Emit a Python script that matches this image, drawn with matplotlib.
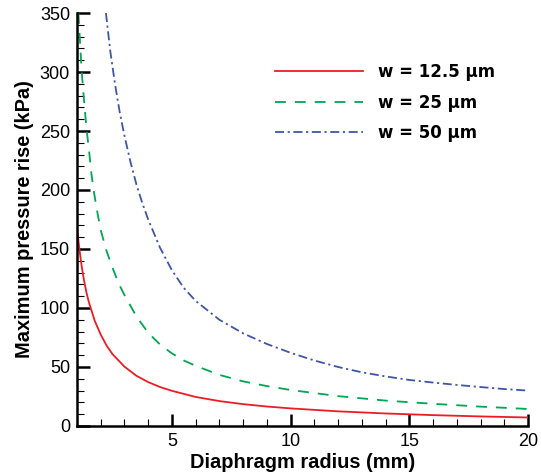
import matplotlib
matplotlib.use("Agg")
import matplotlib.pyplot as plt
from matplotlib.ticker import MultipleLocator

plt.rcParams["font.family"] = ["Liberation Sans", "DejaVu Sans"]

# values
radius_125 = [1.0, 1.1, 1.2, 1.3, 1.4, 1.5, 1.75, 2.0, 2.25, 2.5, 3.0, 3.5, 4.0, 4.5,
              5.0, 6.0, 7.0, 8.0, 9.0, 10, 12, 14, 16, 18, 20]
press_125 = [168, 150, 135, 123, 113, 105, 89, 77.5, 68, 60.8, 50.3, 42.6, 37.2, 33,
             29.8, 24.6, 21.1, 18.5, 16.5, 14.9, 12.4, 10.6, 9.2, 8.1, 7.2]

radius_25 = [1.06, 1.1, 1.2, 1.3, 1.4, 1.5, 1.6, 1.7, 1.85, 2.0, 2.25, 2.5, 2.75, 3.0,
             3.5, 4.0, 4.5, 5.0, 5.5, 6.0, 7.0, 8.0, 9.0, 10, 12, 14, 16, 18, 20]
press_25 = [350, 335, 300, 275, 252, 235, 215, 200, 182, 166, 148, 134, 121, 111,
            93, 79, 69, 61.5, 55.5, 51, 43.3, 37.8, 33.8, 30.5, 25.3, 21.5, 18.8, 16.4, 14.4]

radius_50 = [2.22, 2.4, 2.6, 2.8, 3.0, 3.25, 3.5, 3.75, 4.0, 4.5, 5.0, 5.5, 6.0, 7.0,
             8.0, 9.0, 10, 11, 12, 13, 14, 15, 16, 17, 18, 19, 20]
press_50 = [350, 318, 290, 266, 246, 224, 205, 189, 175, 151, 132, 117, 106, 90,
            78.5, 69.5, 62, 55.5, 50, 45.5, 42, 39, 36.8, 34.8, 33, 31.3, 30]

fig = plt.figure(figsize=(5.41, 4.75), dpi=100)
ax = fig.add_axes([0.1423, 0.1032, 0.8337, 0.8694])

ax.plot(radius_125, press_125, color="#ec1c24", lw=1.3, label="w = 12.5 \u03bcm")
ax.plot(radius_25, press_25, color="#00a651", lw=1.3, linestyle=(0, (6, 5)),
        label="w = 25 \u03bcm")
ax.plot(radius_50, press_50, color="#3f56a6", lw=1.3, linestyle=(0, (5, 2, 1.2, 2)),
        label="w = 50 \u03bcm")

ax.set_xlim(1, 20)
ax.set_ylim(0, 350)
ax.xaxis.set_major_locator(plt.FixedLocator([5, 10, 15, 20]))
ax.xaxis.set_minor_locator(MultipleLocator(1))
ax.yaxis.set_major_locator(MultipleLocator(50))
ax.yaxis.set_minor_locator(MultipleLocator(10))

for side in ["top", "right"]:
    ax.spines[side].set_visible(False)
for side in ["left", "bottom"]:
    ax.spines[side].set_linewidth(1.8)

ax.tick_params(which="major", direction="in", length=9, width=1.8, labelsize=13, pad=5)
ax.tick_params(which="minor", direction="in", length=5, width=0.8)

ax.set_xlabel("Diaphragm radius (mm)", fontsize=14.4, fontweight="bold", labelpad=2)
ax.set_ylabel("Maximum pressure rise (kPa)", fontsize=14.4, fontweight="bold", labelpad=4)

leg = ax.legend(loc="upper left", bbox_to_anchor=(0.405, 0.915), frameon=False,
                handlelength=5.3, handletextpad=0.9, labelspacing=0.75,
                prop={"family": "DejaVu Sans", "size": 12, "weight": "bold"})

fig.savefig("out.png", dpi=100)
